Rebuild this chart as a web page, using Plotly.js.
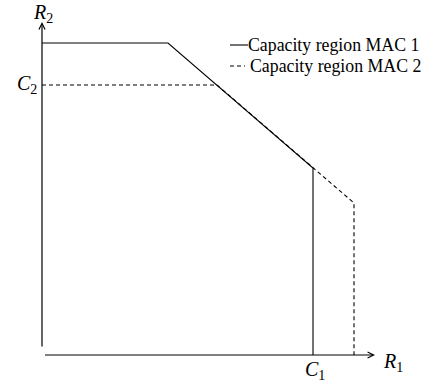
<!DOCTYPE html>
<html>
<head>
<meta charset="utf-8">
<script src="https://cdn.plot.ly/plotly-3.0.1.min.js"></script>
<style>html,body{margin:0;padding:0;background:#fff;}#chart{width:426px;height:383px;}</style>
</head>
<body>
<div id="chart"></div>
<script>
// Capacity regions (arbitrary units)
var mac1R1 = [0, 126, 271, 271];
var mac1R2 = [312, 312, 187, 0];
var mac2R1 = [0, 175, 312, 312];
var mac2R2 = [270, 270, 152, 0];
var C1 = 271;
var C2 = 270;
var axisMax = 333;
var seriesNames = ['Capacity region MAC 1', 'Capacity region MAC 2'];

var serif = 'Liberation Serif, Times New Roman, serif';
function px(v) { return v / axisMax; } // data -> paper fraction (plot area is square, range 0..axisMax)

var traces = [
  {x: mac2R1, y: mac2R2, mode: 'lines', name: seriesNames[1], cliponaxis: false,
   line: {color: '#000', width: 1.1, dash: '4px,3px'}, hoverinfo: 'skip'},
  {x: mac1R1, y: mac1R2, mode: 'lines', name: seriesNames[0], cliponaxis: false,
   line: {color: '#000', width: 1.1}, hoverinfo: 'skip'}
];

var hidden = {range: [0, axisMax], showgrid: false, zeroline: false, showticklabels: false,
  ticks: '', showline: false, fixedrange: true};

var lbl = {size: 20, family: serif};

var layout = {
  width: 426, height: 383,
  margin: {l: 42, r: 51, t: 22, b: 28},
  paper_bgcolor: '#fff', plot_bgcolor: '#fff',
  showlegend: false,
  xaxis: hidden, yaxis: Object.assign({}, hidden),
  font: {family: serif, color: '#000'},
  shapes: [
    {type: 'line', xref: 'x', yref: 'y', x0: 188, x1: 206, y0: 310, y1: 310,
     line: {color: '#000', width: 1.1}},
    {type: 'line', xref: 'x', yref: 'y', x0: 188, x1: 203, y0: 289, y1: 289,
     line: {color: '#000', width: 1.1, dash: '4px,3px'}}
  ],
  annotations: [
    // axes arrows
    {x: axisMax, y: 0, ax: 0, ay: 0, axref: 'x', ayref: 'y', xref: 'x', yref: 'y',
     text: ' ', showarrow: true, arrowhead: 5, arrowsize: 1, arrowwidth: 1.2, arrowcolor: '#000', standoff: 0},
    {x: 0, y: axisMax, ax: 0, ay: 0, axref: 'x', ayref: 'y', xref: 'x', yref: 'y',
     text: ' ', showarrow: true, arrowhead: 5, arrowsize: 1, arrowwidth: 1.2, arrowcolor: '#000', standoff: 0},
    // axis labels
    {x: px(1), y: px(355), xref: 'paper', yref: 'paper', text: '<i>R</i><sub>2</sub>', showarrow: false,
     xanchor: 'center', yanchor: 'top', borderpad: 0, font: lbl},
    {x: px(339), y: px(-7), xref: 'paper', yref: 'paper', text: '<i>R</i><sub>1</sub>', showarrow: false,
     xanchor: 'left', yanchor: 'middle', font: lbl},
    {x: px(-3), y: px(C2 + 1), xref: 'paper', yref: 'paper', text: '<i>C</i><sub>2</sub>', showarrow: false,
     xanchor: 'right', yanchor: 'middle', font: lbl},
    {x: px(C1 + 2), y: px(-15), xref: 'paper', yref: 'paper', text: '<i>C</i><sub>1</sub>', showarrow: false,
     xanchor: 'center', yanchor: 'middle', font: lbl},
    // legend text
    {x: 206, y: 310, xref: 'x', yref: 'y', text: seriesNames[0], showarrow: false,
     xanchor: 'left', yanchor: 'middle', xshift: -2, font: {size: 17.8, family: serif}},
    {x: 208, y: 289, xref: 'x', yref: 'y', text: seriesNames[1], showarrow: false,
     xanchor: 'left', yanchor: 'middle', xshift: -2, font: {size: 17.8, family: serif}}
  ]
};

Plotly.newPlot('chart', traces, layout, {staticPlot: true, displayModeBar: false});
</script>
</body>
</html>
